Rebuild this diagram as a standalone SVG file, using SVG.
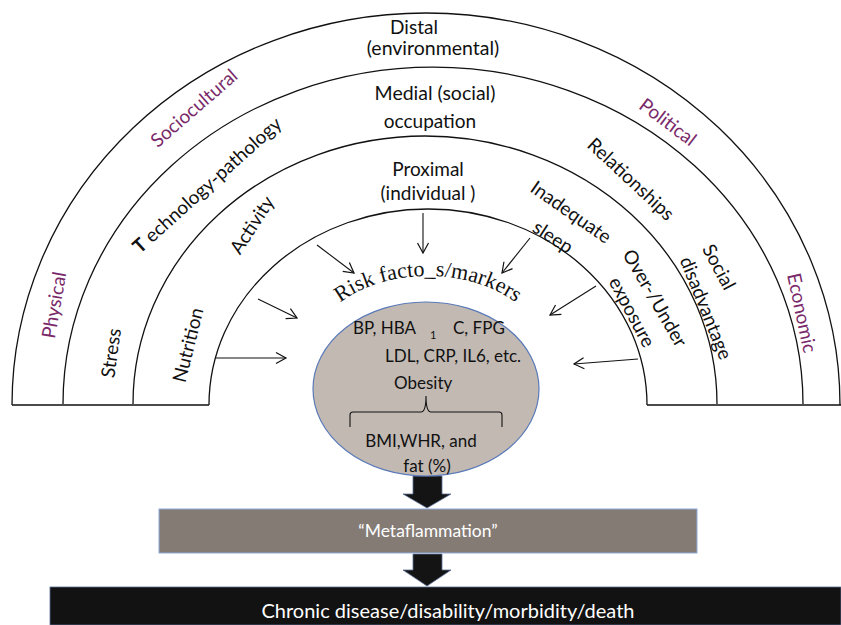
<svg xmlns="http://www.w3.org/2000/svg" width="841" height="625" viewBox="0 0 841 625">
<defs>
<style>
.arc{fill:none;stroke:#111;stroke-width:1.3}
.lbl{font-family:Lato,"Liberation Sans",sans-serif;font-size:19px;fill:#111;text-anchor:middle}
.pur{fill:#7a2a6a}
.in{font-family:Lato,"Liberation Sans",sans-serif;font-size:17px;fill:#111}
.thin{stroke:#111;stroke-width:1.1;fill:none;marker-end:url(#ah)}
.blk{fill:#141414;stroke:#5a6f96;stroke-width:0.8}
</style>
<marker id="ah" markerUnits="userSpaceOnUse" markerWidth="14" markerHeight="14" refX="11" refY="6" orient="auto" viewBox="0 0 14 12">
<path d="M1,0.5 L11,6 L1,11.5" fill="none" stroke="#111" stroke-width="1.2"/>
</marker>
<path id="riskArc" d="M310,356 A118,80 0 0 1 546,356"/>
</defs>
<rect width="841" height="625" fill="#fff"/>

<g id="arcs">
<path class="arc" d="M12,405 A414,392 0 0 1 840,405"/>
<path class="arc" d="M63,404 A370,337 0 0 1 803,404"/>
<path class="arc" d="M133,404 A292,268 0 0 1 717,404"/>
<path class="arc" d="M209,405 A219,196 0 0 1 647,405"/>
<path class="arc" d="M12,405 H209 M647,405 H841"/>
</g>

<g id="labels-distal">
<text class="lbl" x="414" y="34">Distal</text>
<text class="lbl" x="433" y="55" style="font-size:19.5px">(environmental)</text>
<text class="lbl pur" transform="translate(194,108) rotate(-41)" dy="0.35em">Sociocultural</text>
<text class="lbl pur" transform="translate(668,122) rotate(37)" dy="0.35em">Political</text>
<text class="lbl pur" transform="translate(54,305) rotate(-80)" dy="0.35em">Physical</text>
<text class="lbl pur" transform="translate(802,313) rotate(78)" dy="0.35em">Economic</text>
</g>

<g id="labels-medial">
<text class="lbl" x="435" y="100" style="font-size:19.5px">Medial (social)</text>
<text class="lbl" x="430" y="128">occupation</text>
<text class="lbl" transform="translate(207,185) rotate(-42)" dy="0.35em"><tspan font-weight="bold">T</tspan> echnology-pathology</text>
<text class="lbl" transform="translate(111,353) rotate(-82)" dy="0.35em">Stress</text>
<text class="lbl" transform="translate(631,179) rotate(43)" dy="0.35em">Relationships</text>
<text class="lbl" transform="translate(719,267) rotate(62)" dy="0.35em">Social</text>
<text class="lbl" transform="translate(706,308) rotate(68)" dy="0.35em">disadvantage</text>
</g>

<g id="labels-proximal">
<text class="lbl" x="428" y="176">Proximal</text>
<text class="lbl" x="428" y="200">(individual )</text>
<text class="lbl" transform="translate(252,225) rotate(-57)" dy="0.35em">Activity</text>
<text class="lbl" transform="translate(188,345) rotate(-76)" dy="0.35em">Nutrition</text>
<text class="lbl" transform="translate(571,212) rotate(35)" dy="0.35em">Inadequate</text>
<text class="lbl" transform="translate(553,237) rotate(33)" dy="0.35em">sleep</text>
<text class="lbl" transform="translate(655,298) rotate(60)" dy="0.35em">Over-/Under</text>
<text class="lbl" transform="translate(632,312) rotate(62)" dy="0.35em">exposure</text>
</g>

<g id="connectors">
<path class="thin" d="M317,245 L354,273"/>
<path class="thin" d="M258,299 L297,318"/>
<path class="thin" d="M215,358 L286,358"/>
<path class="thin" d="M423,213 L423,253"/>
<path class="thin" d="M530,238 L502,273"/>
<path class="thin" d="M596,286 L550,315"/>
<path class="thin" d="M638,359 L574,364"/>
<path class="blk" d="M413,476 H442 V494 H451 L427,508 L403,494 H413 Z"/>
<path class="blk" d="M413,554 H442 V570 H451 L427,586 L403,570 H413 Z"/>
</g>

<g id="risk-markers">
<ellipse cx="426" cy="389" rx="113" ry="87" fill="#c2b9b3" stroke="#5a7ab8" stroke-width="1.2"/>
<text font-family="'Liberation Serif',serif" font-size="22" fill="#111"><textPath href="#riskArc" startOffset="50%" text-anchor="middle">Risk facto_s/markers</textPath></text>
<text class="in" x="353" y="334">BP,  HBA</text>
<text class="in" x="430" y="339" style="font-size:11px">1</text>
<text class="in" x="453" y="334">C, FPG</text>
<text class="in" x="385" y="362">LDL, CRP, IL6, etc.</text>
<text class="in" x="394" y="389">Obesity</text>
<path d="M350,427 V415 Q350,412 353,412 H421 Q426,412 426,396 Q426,412 431,412 H499 Q502,412 502,415 V427" fill="none" stroke="#111" stroke-width="1.1"/>
<text class="in" x="421" y="447" text-anchor="middle">BMI,WHR, and</text>
<text class="in" x="427" y="472" text-anchor="middle">fat (%)</text>
</g>

<g id="metaflammation">
<rect x="159" y="509" width="538" height="44" fill="#857b75" stroke="#8faadc" stroke-width="1"/>
<text x="428" y="537" font-family="Lato,'Liberation Sans',sans-serif" font-size="17.5" fill="#fff" text-anchor="middle">“Metaflammation”</text>
</g>

<g id="outcome">
<rect x="50" y="587" width="791" height="38" fill="#121212" stroke="#5a6f96" stroke-width="0.8"/>
<text x="448" y="618" font-family="Lato,'Liberation Sans',sans-serif" font-size="20" fill="#fff" text-anchor="middle">Chronic disease/disability/morbidity/death</text>
</g>
</svg>
